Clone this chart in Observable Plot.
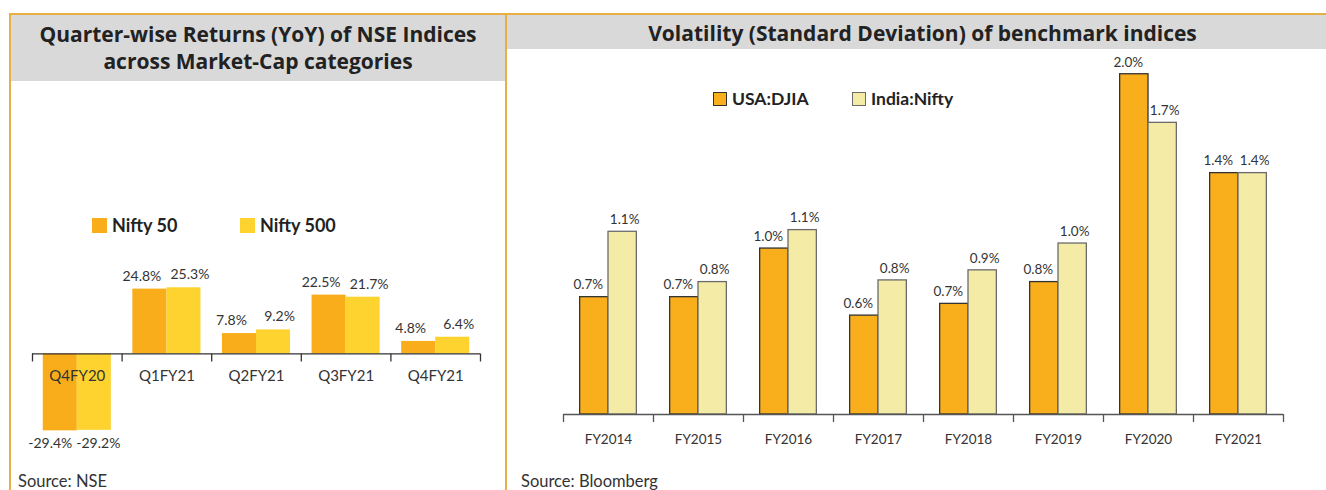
<!DOCTYPE html>
<html>
<head>
<meta charset="utf-8">
<script src="https://cdn.jsdelivr.net/npm/d3@7"></script>
<script src="https://cdn.jsdelivr.net/npm/@observablehq/plot@0.6"></script>
<style>
  html, body { margin: 0; padding: 0; background: #fff; }
  body { width: 1326px; height: 490px; position: relative; overflow: hidden; font-family: Lato, "Open Sans", sans-serif; color: #333; }
  .abs { position: absolute; }
  .gold { background: #E6B045; }
  .hdr { background: #D9D9D9; color: #222; font-weight: 700; font-size: 21px; text-align: center; font-family: "Open Sans", Lato, sans-serif; }
  .leg { font-weight: 700; color: #222; white-space: nowrap; }
  .sw { position: absolute; }
  .src { font-size: 16.5px; line-height: 20px; color: #333; white-space: nowrap; }
</style>
</head>
<body>
<div class="abs gold" style="left:9px;top:13px;width:1317px;height:2px"></div>
<div class="abs gold" style="left:9px;top:13px;width:2px;height:477px"></div>
<div class="abs gold" style="left:505px;top:13px;width:2px;height:477px"></div>
<div class="abs hdr" id="titleL" style="left:11px;top:15px;width:494px;height:66px;line-height:27px;padding-top:6px;box-sizing:border-box"></div>
<div class="abs hdr" id="titleR" style="left:507px;top:15px;width:819px;height:34px;line-height:36px;padding-left:12px;box-sizing:border-box"></div>
<div id="chartL" class="abs" style="left:10px;top:150px"></div>
<div id="chartR" class="abs" style="left:506px;top:50px"></div>
<div id="legL"></div>
<div id="legR"></div>
<div class="abs src" id="srcL" style="left:18px;top:471px"></div>
<div class="abs src" id="srcR" style="left:521px;top:471px"></div>
<script>
// ---- Data ----
const titleLeft = ["Quarter-wise Returns (YoY) of NSE Indices", "across Market-Cap categories"];
const titleRight = "Volatility (Standard Deviation) of benchmark indices";
const quarters = ["Q4FY20", "Q1FY21", "Q2FY21", "Q3FY21", "Q4FY21"];
const nifty50 = [-29.4, 24.8, 7.8, 22.5, 4.8];
const nifty500 = [-29.2, 25.3, 9.2, 21.7, 6.4];
const seriesLeft = ["Nifty 50", "Nifty 500"];
const years = ["FY2014", "FY2015", "FY2016", "FY2017", "FY2018", "FY2019", "FY2020", "FY2021"];
const djia = [0.70, 0.70, 0.99, 0.59, 0.66, 0.79, 2.03, 1.44];
const indiaNifty = [1.09, 0.79, 1.10, 0.80, 0.86, 1.02, 1.74, 1.44];
const seriesRight = ["USA:DJIA", "India:Nifty"];
const sourceLeft = "Source: NSE";
const sourceRight = "Source: Bloomberg";

// ---- Styles ----
const colL = ["#F9AD1B", "#FED32F"];
const colR = ["#F9AE1B", "#F4EBA6"];
const strokeR = ["#333", "#6b6b6b"];
const pct = v => v.toFixed(1) + "%";

document.getElementById("titleL").innerHTML = titleLeft.join("<br>");
document.getElementById("titleR").textContent = titleRight;
document.getElementById("srcL").textContent = sourceLeft;
document.getElementById("srcR").textContent = sourceRight;

// ---- Left chart ----
const rowsL = [];
quarters.forEach((q, i) => {
  rowsL.push({q, i, s: 0, v: nifty50[i]});
  rowsL.push({q, i, s: 1, v: nifty500[i]});
});
const padL = 0.12;
const x1L = d => d.s === 0 ? d.i + padL : d.i + 0.5;
const x2L = d => d.s === 0 ? d.i + 0.5 : d.i + 1 - padL;
const cxL = d => (x1L(d) + x2L(d)) / 2;
const fmtL = d => pct(d.v);
const dxL = [-8, 6];

const labelMarksL = [];
[0, 1].forEach(s => {
  labelMarksL.push(Plot.text(rowsL.filter(d => d.s === s && d.v >= 0), {x: cxL, y: "v", dy: -13, dx: dxL[s], text: fmtL, fontSize: 14, fill: "#333"}));
  labelMarksL.push(Plot.text(rowsL.filter(d => d.s === s && d.v < 0), {x: cxL, y: "v", dy: 13, dx: dxL[s] - 2, text: fmtL, fontSize: 14, fill: "#333"}));
});

const plotL = Plot.plot({
  width: 496, height: 310,
  marginLeft: 22, marginRight: 26, marginTop: 125, marginBottom: 15,
  x: {type: "linear", domain: [0, quarters.length], axis: null},
  y: {domain: [-35, 30], axis: null},
  style: {fontFamily: "Lato, 'Open Sans', sans-serif", fontSize: "13px", color: "#333", background: "transparent"},
  marks: [
    Plot.rectY(rowsL, {x1: x1L, x2: x2L, y: "v", fill: d => colL[d.s]}),
    Plot.ruleY([0], {stroke: "#333", strokeWidth: 1.3}),
    Plot.ruleX(d3.range(quarters.length + 1), {x: d => d, y1: 0, y2: 0, insetBottom: -8, stroke: "#333", strokeWidth: 1.3}),
    Plot.text(quarters, {x: (d, i) => i + 0.5, y: 0, dy: 22, text: d => d, fontSize: 15, fill: "#333"}),
    ...labelMarksL
  ]
});
document.getElementById("chartL").appendChild(plotL);

// ---- Right chart ----
const rowsR = [];
years.forEach((y, i) => {
  rowsR.push({y, i, s: 0, v: djia[i]});
  rowsR.push({y, i, s: 1, v: indiaNifty[i]});
});
const padR = 0.185;
const x1R = d => d.s === 0 ? d.i + padR : d.i + 0.5;
const x2R = d => d.s === 0 ? d.i + 0.5 : d.i + 1 - padR;
const cxR = d => (x1R(d) + x2R(d)) / 2;
const fmtR = d => pct(d.v);

const plotR = Plot.plot({
  width: 820, height: 420,
  marginLeft: 57, marginRight: 43, marginTop: 12, marginBottom: 56,
  x: {type: "linear", domain: [0, years.length], axis: null},
  y: {domain: [0, 2.1], axis: null},
  style: {fontFamily: "Lato, 'Open Sans', sans-serif", fontSize: "12px", color: "#333", background: "transparent"},
  marks: [
    Plot.rectY(rowsR, {x1: x1R, x2: x2R, y: "v", fill: d => colR[d.s], stroke: d => strokeR[d.s], strokeWidth: 1.3}),
    Plot.ruleY([0], {stroke: "#555", strokeWidth: 1.3}),
    Plot.ruleX(d3.range(years.length + 1), {x: d => d, y1: 0, y2: 0, insetBottom: -8, stroke: "#555", strokeWidth: 1.3}),
    Plot.text(years, {x: (d, i) => i + 0.5, y: 0, dy: 25, text: d => d, fontSize: 13.5, fill: "#333"}),
    Plot.text(rowsR.filter(d => d.s === 0), {x: cxR, y: "v", dy: -12, dx: -6, text: fmtR, fontSize: 13.5, fill: "#333"}),
    Plot.text(rowsR.filter(d => d.s === 1), {x: cxR, y: "v", dy: -12, dx: 2, text: fmtR, fontSize: 13.5, fill: "#333"})
  ]
});
document.getElementById("chartR").appendChild(plotR);

// ---- Legends ----
const legL = document.getElementById("legL");
[[92, 218], [240, 218]].forEach((p, k) => {
  const sw = document.createElement("div");
  sw.className = "sw";
  Object.assign(sw.style, {left: p[0] + "px", top: p[1] + "px", width: "15px", height: "15px", background: colL[k]});
  legL.appendChild(sw);
  const t = document.createElement("div");
  t.className = "abs leg";
  Object.assign(t.style, {left: (p[0] + 20) + "px", top: (p[1] - 4) + "px", fontSize: "18px", lineHeight: "22px"});
  t.textContent = seriesLeft[k];
  legL.appendChild(t);
});
const legR = document.getElementById("legR");
[[713, 92], [852, 92]].forEach((p, k) => {
  const sw = document.createElement("div");
  sw.className = "sw";
  Object.assign(sw.style, {left: p[0] + "px", top: p[1] + "px", width: "12px", height: "12px", background: colR[k], border: "1.3px solid " + strokeR[k]});
  legR.appendChild(sw);
  const t = document.createElement("div");
  t.className = "abs leg";
  Object.assign(t.style, {left: (p[0] + 19) + "px", top: (p[1] - 4) + "px", fontSize: "17.5px", lineHeight: "22px"});
  t.textContent = seriesRight[k];
  legR.appendChild(t);
});
</script>
</body>
</html>
